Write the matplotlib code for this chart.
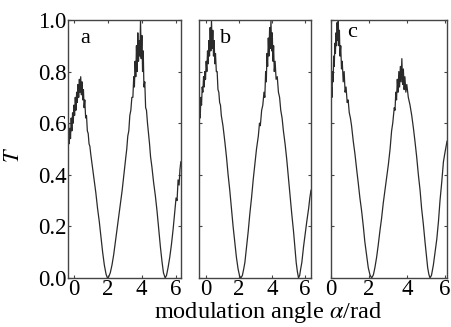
import numpy as np
import matplotlib
matplotlib.use('Agg')
import matplotlib.pyplot as plt

plt.rcParams['font.family'] = ['Liberation Serif', 'DejaVu Serif']
plt.rcParams['mathtext.fontset'] = 'stix'

# Data (modulation angle in rad, transmission T)

ANGLE_A = [-0.35, -0.31, -0.27, -0.23, -0.19, -0.15, -0.11, -0.07, -0.03, 0.01,
           0.05, 0.09, 0.13, 0.17, 0.21, 0.25, 0.29, 0.33, 0.37, 0.41,
           0.45, 0.49, 0.53, 0.57, 0.61, 0.65, 0.70, 0.75, 0.80, 0.85,
           0.90, 0.95, 1.00, 1.10, 1.20, 1.30, 1.40, 1.50, 1.60, 1.70,
           1.80, 1.90, 1.98, 2.06, 2.15, 2.25, 2.35, 2.45, 2.55, 2.65,
           2.75, 2.85, 2.95, 3.05, 3.12, 3.18, 3.24, 3.30, 3.36, 3.42,
           3.48, 3.53, 3.57, 3.61, 3.65, 3.69, 3.73, 3.77, 3.81, 3.85,
           3.89, 3.93, 3.97, 4.01, 4.05, 4.09, 4.13, 4.18, 4.23, 4.28,
           4.34, 4.40, 4.46, 4.52, 4.60, 4.70, 4.80, 4.90, 5.00, 5.10,
           5.20, 5.28, 5.38, 5.46, 5.55, 5.65, 5.75, 5.85, 5.95, 6.02,
           6.08, 6.14, 6.20, 6.25, 6.30]
T_A = [0.55, 0.60, 0.52, 0.58, 0.54, 0.62, 0.57, 0.64, 0.60, 0.67,
       0.63, 0.70, 0.65, 0.72, 0.68, 0.75, 0.70, 0.77, 0.72, 0.78,
       0.71, 0.76, 0.69, 0.73, 0.66, 0.69, 0.62, 0.63, 0.57, 0.56,
       0.52, 0.51, 0.48, 0.43, 0.38, 0.33, 0.27, 0.22, 0.16, 0.10,
       0.05, 0.015, 0.0, 0.005, 0.02, 0.05, 0.09, 0.14, 0.19, 0.24,
       0.29, 0.34, 0.40, 0.46, 0.50, 0.55, 0.57, 0.63, 0.65, 0.70,
       0.70, 0.78, 0.74, 0.84, 0.78, 0.90, 0.80, 0.95, 0.84, 0.92,
       0.86, 1.00, 0.85, 0.94, 0.80, 0.88, 0.74, 0.76, 0.66, 0.65,
       0.60, 0.56, 0.52, 0.47, 0.43, 0.37, 0.32, 0.26, 0.19, 0.12,
       0.06, 0.02, 0.0, 0.01, 0.04, 0.08, 0.13, 0.19, 0.26, 0.31,
       0.30, 0.38, 0.36, 0.42, 0.45]

ANGLE_B = [-0.40, -0.36, -0.32, -0.28, -0.24, -0.20, -0.16, -0.12, -0.08, -0.04,
           0.00, 0.04, 0.08, 0.12, 0.16, 0.20, 0.24, 0.28, 0.32, 0.36,
           0.40, 0.44, 0.48, 0.52, 0.56, 0.60, 0.65, 0.70, 0.75, 0.80,
           0.85, 0.90, 0.95, 1.05, 1.16, 1.26, 1.36, 1.46, 1.56, 1.66,
           1.76, 1.86, 1.96, 2.05, 2.13, 2.22, 2.30, 2.37, 2.47, 2.57,
           2.67, 2.77, 2.87, 2.97, 3.07, 3.18, 3.25, 3.30, 3.38, 3.45,
           3.52, 3.57, 3.62, 3.66, 3.70, 3.74, 3.78, 3.82, 3.86, 3.90,
           3.94, 3.98, 4.02, 4.06, 4.10, 4.14, 4.19, 4.25, 4.32, 4.39,
           4.46, 4.53, 4.61, 4.69, 4.79, 4.89, 4.99, 5.09, 5.19, 5.30,
           5.38, 5.46, 5.53, 5.60, 5.67, 5.73, 5.80, 5.90, 6.00, 6.10,
           6.21, 6.28, 6.35]
T_B = [0.60, 0.66, 0.62, 0.70, 0.67, 0.74, 0.72, 0.78, 0.74, 0.80,
       0.77, 0.84, 0.80, 0.88, 0.83, 0.92, 0.86, 0.97, 0.88, 1.00,
       0.89, 0.96, 0.86, 0.92, 0.83, 0.87, 0.80, 0.80, 0.73, 0.72,
       0.68, 0.67, 0.63, 0.59, 0.53, 0.47, 0.40, 0.34, 0.27, 0.20,
       0.14, 0.08, 0.035, 0.008, 0.0, 0.01, 0.035, 0.06, 0.12, 0.18,
       0.25, 0.31, 0.38, 0.44, 0.50, 0.55, 0.60, 0.59, 0.65, 0.67,
       0.72, 0.70, 0.80, 0.76, 0.87, 0.82, 0.93, 0.86, 0.97, 0.89,
       1.00, 0.88, 0.95, 0.84, 0.90, 0.80, 0.84, 0.77, 0.78, 0.72,
       0.70, 0.65, 0.62, 0.57, 0.52, 0.46, 0.39, 0.32, 0.25, 0.18,
       0.12, 0.06, 0.025, 0.0, 0.01, 0.035, 0.06, 0.12, 0.17, 0.22,
       0.27, 0.31, 0.34]

ANGLE_C = [0.00, 0.03, 0.06, 0.09, 0.12, 0.15, 0.18, 0.21, 0.24, 0.27,
           0.30, 0.33, 0.36, 0.39, 0.42, 0.45, 0.48, 0.52, 0.56, 0.60,
           0.65, 0.70, 0.75, 0.80, 0.86, 0.91, 0.97, 1.03, 1.09, 1.18,
           1.27, 1.36, 1.44, 1.53, 1.62, 1.71, 1.79, 1.88, 1.97, 2.06,
           2.15, 2.24, 2.32, 2.41, 2.50, 2.58, 2.67, 2.76, 2.85, 2.94,
           3.03, 3.12, 3.20, 3.26, 3.30, 3.34, 3.38, 3.42, 3.46, 3.50,
           3.54, 3.58, 3.62, 3.66, 3.70, 3.74, 3.78, 3.82, 3.86, 3.90,
           3.95, 4.00, 4.08, 4.17, 4.26, 4.35, 4.43, 4.52, 4.61, 4.70,
           4.78, 4.87, 4.96, 5.03, 5.10, 5.16, 5.22, 5.30, 5.40, 5.49,
           5.58, 5.67, 5.75, 5.84, 5.93, 6.02, 6.12]
T_C = [0.68, 0.74, 0.70, 0.80, 0.76, 0.86, 0.82, 0.91, 0.87, 0.95,
       0.90, 0.99, 0.92, 1.00, 0.90, 0.96, 0.86, 0.90, 0.81, 0.84,
       0.76, 0.80, 0.72, 0.74, 0.68, 0.69, 0.64, 0.62, 0.59, 0.53,
       0.48, 0.42, 0.37, 0.31, 0.26, 0.20, 0.14, 0.09, 0.04, 0.012,
       0.0, 0.012, 0.04, 0.08, 0.13, 0.18, 0.23, 0.29, 0.34, 0.39,
       0.44, 0.50, 0.57, 0.60, 0.63, 0.66, 0.65, 0.72, 0.69, 0.77,
       0.72, 0.80, 0.74, 0.82, 0.76, 0.85, 0.75, 0.81, 0.73, 0.78,
       0.72, 0.75, 0.70, 0.67, 0.63, 0.58, 0.53, 0.47, 0.40, 0.34,
       0.27, 0.21, 0.14, 0.09, 0.04, 0.015, 0.0, 0.01, 0.05, 0.10,
       0.15, 0.22, 0.30, 0.37, 0.45, 0.49, 0.53]

PANELS = ['a', 'b', 'c']
ANGLES = [ANGLE_A, ANGLE_B, ANGLE_C]
TRANS = [T_A, T_B, T_C]
XLIMS = [(-0.35, 6.30), (-0.40, 6.35), (0.0, 6.12)]
X_TICKS = [0, 2, 4, 6]
Y_TICKS = [0.0, 0.2, 0.4, 0.6, 0.8, 1.0]

# Layout (figure fractions)
AX_RECTS = [(0.150, 0.150, 0.250, 0.789),
            (0.440, 0.150, 0.248, 0.789),
            (0.732, 0.150, 0.257, 0.789)]
LETTER_POS = [(0.15, 0.93), (0.24, 0.93), (0.18, 0.95)]

fig = plt.figure(figsize=(4.52, 3.27), dpi=100)

for i, (name, x, t) in enumerate(zip(PANELS, ANGLES, TRANS)):
    ax = fig.add_axes(AX_RECTS[i])
    ax.plot(x, t, color='#2a2a2a', linewidth=0.9)
    ax.set_xlim(*XLIMS[i])
    ax.set_ylim(0, 1.0)
    ax.set_xticks(X_TICKS)
    ax.set_yticks(Y_TICKS)
    ax.tick_params(which='both', direction='in', top=True, right=True,
                   length=2.5, width=0.8, labelsize=16.5, pad=1.0,
                   color='#444444')
    if i == 0:
        ax.set_yticklabels(['%.1f' % v for v in Y_TICKS])
    else:
        ax.set_yticklabels([])
    for sp in ax.spines.values():
        sp.set_linewidth(1.0)
        sp.set_color('#444444')
    ax.text(*LETTER_POS[i], name, transform=ax.transAxes, fontsize=16,
            ha='center', va='center')

fig.text(0.592, 0.045, r'modulation angle $\alpha$/rad', ha='center',
         va='center', fontsize=17.5)
fig.text(0.031, 0.526, r'$T$', ha='center', va='center', fontsize=16,
         rotation=90)

fig.savefig('out.png', dpi=100)
